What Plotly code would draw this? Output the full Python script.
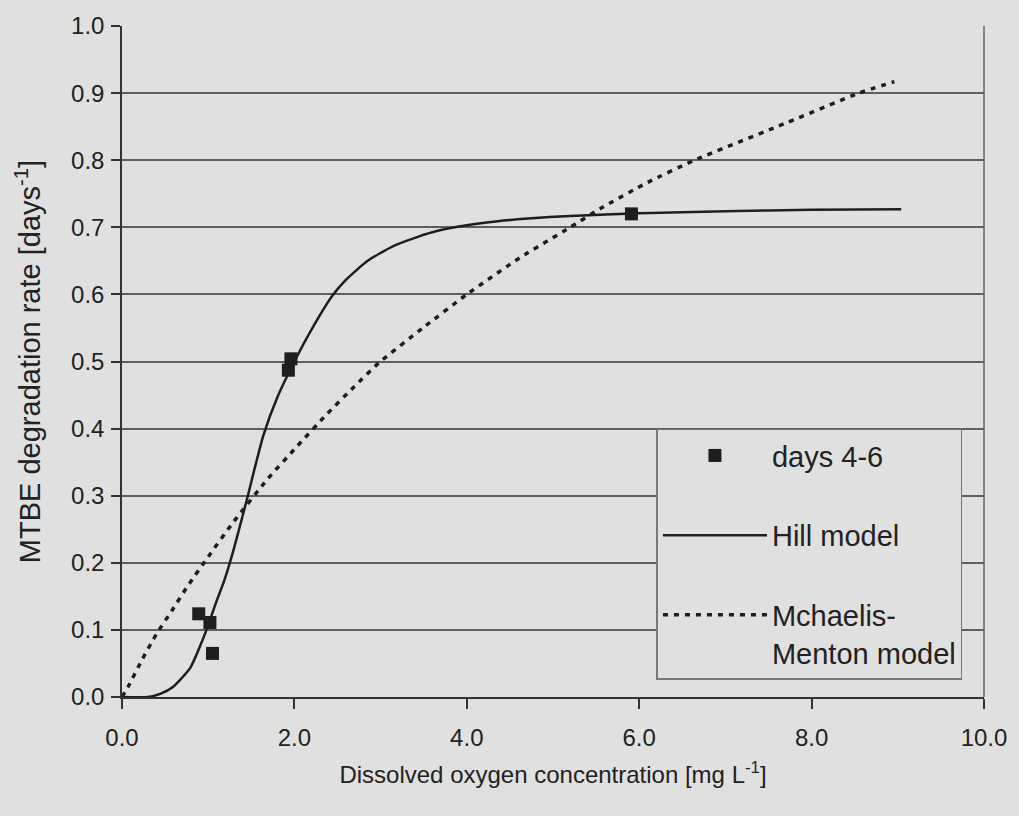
import plotly.graph_objects as go

# Measured data (days 4-6)
obs_x = [0.89, 1.02, 1.05, 1.93, 1.96, 5.91]
obs_y = [0.124, 0.111, 0.065, 0.487, 0.504, 0.720]

# Hill model curve
hill_x = [0.0, 0.3, 0.45, 0.59, 0.79, 0.90, 0.98, 1.10, 1.19, 1.30, 1.45, 1.64, 1.80, 2.0,
          2.2, 2.44, 2.6, 2.85, 3.13, 3.44, 3.64, 4.0, 4.36, 4.71, 5.2, 6.0, 7.0, 8.0, 9.04]
hill_y = [0.0, 0.0, 0.005, 0.015, 0.043, 0.074, 0.100, 0.144, 0.175, 0.222, 0.295, 0.390, 0.446, 0.500,
          0.548, 0.598, 0.622, 0.650, 0.671, 0.686, 0.694, 0.703, 0.709, 0.713, 0.717, 0.721, 0.724, 0.726, 0.727]

# Michaelis-Menten model curve
mm_x = [0.0, 0.07, 0.23, 0.40, 0.58, 0.76, 1.0, 1.3, 1.69, 2.02, 2.38, 2.69, 2.98,
        3.5, 4.0, 4.62, 5.2, 5.55, 6.1, 6.64, 7.6, 8.55, 8.96]
mm_y = [0.0, 0.015, 0.055, 0.094, 0.129, 0.165, 0.209, 0.262, 0.325, 0.372, 0.422, 0.462, 0.498,
        0.551, 0.600, 0.655, 0.700, 0.728, 0.767, 0.800, 0.850, 0.900, 0.917]

x_ticks = [0, 2, 4, 6, 8, 10]
y_ticks = [i / 10 for i in range(11)]

BG = "#e0e0e0"
FONT = "Liberation Sans, Arial, sans-serif"
INK = "#1e1e1e"

fig = go.Figure()
fig.add_trace(go.Scatter(
    x=obs_x, y=obs_y, mode="markers", name="days 4-6", legendgroup="a",
    marker=dict(symbol="square", size=13, color=INK),
))
fig.add_trace(go.Scatter(
    x=hill_x, y=hill_y, mode="lines", name="Hill model", legendgroup="b",
    line=dict(color=INK, width=2.5, shape="spline", smoothing=0.6),
))
fig.add_trace(go.Scatter(
    x=mm_x, y=mm_y, mode="lines", name="Mchaelis-<br>Menton model", legendgroup="c",
    line=dict(color=INK, width=3.5, dash="5px,6px", shape="spline", smoothing=0.5),
))

fig.update_layout(
    width=1019, height=816,
    margin=dict(l=122, r=31, t=22, b=119),
    paper_bgcolor=BG, plot_bgcolor=BG,
    font=dict(family=FONT, size=24, color="#222"),
    showlegend=True,
    legend=dict(
        x=0.62, y=0.40, xanchor="left", yanchor="top",
        bgcolor=BG, bordercolor="#777", borderwidth=1.5,
        font=dict(size=29, color="#222"),
        tracegroupgap=39, itemwidth=104, valign="top",
    ),
    xaxis=dict(
        range=[0, 10], tickvals=x_ticks, tickformat=".1f",
        showgrid=False, zeroline=False,
        showline=True, linecolor="#333", linewidth=1.5,
        ticks="outside", ticklen=10, tickcolor="#333", tickwidth=1.5,
        ticklabelstandoff=8,
        title=dict(text="Dissolved oxygen concentration [mg L<sup>-1</sup>]", standoff=17,
                   font=dict(size=24)),
    ),
    yaxis=dict(
        range=[0, 1], tickvals=y_ticks, tickformat=".1f",
        showgrid=True, gridcolor="#5e5e5e", gridwidth=1.5, zeroline=False,
        showline=True, linecolor="#333", linewidth=1.5,
        ticks="outside", ticklen=9, tickcolor="#333", tickwidth=1.5,
        ticklabelstandoff=2,
        title=dict(text="MTBE degradation rate [days<sup>-1</sup>]", standoff=22,
                   font=dict(size=29)),
    ),
)
# right border of plot frame
fig.add_shape(type="line", xref="paper", yref="paper", x0=1, x1=1, y0=0, y1=1,
              line=dict(color="#666", width=1.5))

fig.write_html("out.html")
